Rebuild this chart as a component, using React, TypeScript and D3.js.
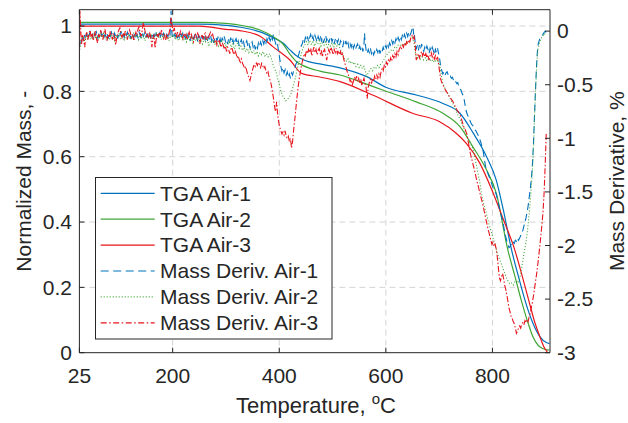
import React from "react";
import * as d3 from "d3";

// ---------- TGA (left axis, normalized mass) ----------
const tgaT1 = [25, 250, 300, 335, 364, 390, 407, 420, 433, 446, 476, 514, 564, 601, 657, 707, 739, 764, 789, 807, 820, 836, 851, 861, 876, 889, 901, 907];
const tgaM1 = [1.006, 1.006, 1.002, 0.994, 0.982, 0.963, 0.948, 0.927, 0.908, 0.896, 0.884, 0.872, 0.845, 0.812, 0.789, 0.763, 0.733, 0.672, 0.6, 0.529, 0.44, 0.314, 0.22, 0.161, 0.09, 0.049, 0.031, 0.028];

const tgaT2 = [25, 250, 300, 335, 364, 390, 407, 420, 433, 446, 476, 514, 564, 594, 657, 707, 739, 763, 789, 807, 829, 842, 854, 866, 876, 886, 894, 907];
const tgaM2 = [1.011, 1.011, 1.008, 1.0, 0.988, 0.966, 0.945, 0.914, 0.89, 0.878, 0.862, 0.85, 0.822, 0.804, 0.768, 0.733, 0.692, 0.631, 0.559, 0.489, 0.314, 0.235, 0.161, 0.095, 0.049, 0.022, 0.013, 0.008];

const tgaT3 = [25, 250, 300, 326, 364, 388, 420, 442, 476, 514, 575, 650, 701, 732, 751, 776, 799, 820, 842, 855, 868, 880, 889, 896, 903];
const tgaM3 = [1.0, 1.0, 0.99, 0.986, 0.969, 0.937, 0.896, 0.855, 0.844, 0.83, 0.789, 0.733, 0.707, 0.672, 0.641, 0.581, 0.498, 0.41, 0.314, 0.24, 0.161, 0.09, 0.049, 0.02, 0.002];

// ---------- Mass derivative (right axis, %): [temperature, derivative] ----------
const derivAir1: [number, number][] = [
  [25, -0.16], [27, -0.07], [29, -0.1], [31, -0.04], [33, -0.08], [35, -0.03], [37, -0.06], [39, -0.02], [41, -0.07], [43, -0.04], [45, -0.01], [47, -0.05], [49, -0.03], [51, -0.07], [53, -0.02], [55, -0.04], [57, -0.01], [59, -0.06], [61, -0.03], [63, -0.05], [65, 0.0], [67, -0.04], [69, -0.02], [71, -0.06], [73, -0.03], [75, -0.05], [77, -0.02], [79, -0.07], [81, -0.03], [83, -0.05], [85, -0.01], [87, -0.04], [89, -0.06], [91, -0.02], [93, -0.05], [95, -0.03], [97, -0.07], [99, -0.02], [101, -0.04], [103, 0.0], [105, -0.05], [107, -0.03], [109, -0.06], [111, -0.02], [113, -0.04], [115, -0.01], [117, -0.05], [119, -0.03], [121, -0.07], [123, -0.02], [125, -0.04], [127, -0.06], [129, -0.02], [131, -0.05], [133, -0.03], [135, -0.06], [137, -0.01], [139, -0.04], [141, -0.07], [143, -0.03], [145, -0.05], [147, -0.02], [149, -0.06], [151, -0.03], [153, -0.05], [155, -0.01], [157, -0.04], [159, -0.06], [161, -0.02], [163, -0.05], [165, -0.03], [167, -0.07], [169, -0.02], [171, -0.04], [173, -0.06], [175, -0.02], [177, -0.05], [179, -0.03], [181, -0.06], [183, -0.02], [185, -0.04], [187, -0.07], [189, -0.03], [191, -0.05], [193, -0.02], [195, -0.04], [197, 0.19], [198, 0.02], [199, -0.04], [201, -0.07], [203, -0.03], [205, -0.05], [207, -0.02], [209, -0.06], [211, -0.04], [213, -0.07], [215, -0.03], [217, -0.05], [219, -0.02], [221, -0.06], [223, -0.04], [225, -0.08], [227, -0.03], [229, -0.06], [231, -0.04], [233, -0.09], [235, -0.05], [237, -0.03], [239, -0.07], [241, -0.04], [243, -0.08], [245, -0.05], [247, -0.1], [249, -0.04], [251, -0.06], [253, -0.09], [255, -0.05], [257, -0.07], [259, -0.03], [261, -0.08], [263, -0.06], [265, -0.1], [267, -0.05], [269, -0.07], [271, -0.04], [273, -0.09], [275, -0.06], [277, -0.11], [279, -0.07], [281, -0.05], [283, -0.09], [285, -0.06], [287, -0.1], [289, -0.07], [291, -0.12], [293, -0.06], [295, -0.09], [297, -0.05], [299, -0.1], [301, -0.08], [303, -0.12], [305, -0.07], [307, -0.1], [309, -0.06], [311, -0.11], [313, -0.08], [315, -0.13], [317, -0.09], [319, -0.07], [321, -0.12], [323, -0.09], [325, -0.14], [327, -0.1], [329, -0.08], [331, -0.13], [333, -0.1], [335, -0.15], [337, -0.11], [339, -0.09], [341, -0.14], [343, -0.11], [345, -0.16], [347, -0.12], [349, -0.1], [351, -0.15], [353, -0.12], [355, -0.17], [357, -0.13], [359, -0.16], [361, -0.11], [363, -0.14], [365, -0.1], [367, -0.13], [369, -0.09], [371, -0.12], [373, -0.08], [375, -0.11], [377, -0.07], [379, -0.1], [381, -0.06], [383, -0.09], [385, -0.05], [387, -0.08], [389, -0.03], [391, -0.08], [393, -0.11], [395, -0.15], [397, -0.13], [399, -0.2], [401, -0.26], [403, -0.33], [405, -0.37], [407, -0.34], [409, -0.39], [411, -0.36], [413, -0.41], [415, -0.38], [417, -0.43], [419, -0.4], [421, -0.44], [423, -0.39], [425, -0.41], [427, -0.37], [429, -0.36], [431, -0.31], [433, -0.29], [435, -0.24], [437, -0.21], [439, -0.17], [441, -0.14], [443, -0.12], [445, -0.08], [447, -0.11], [449, -0.06], [451, -0.09], [453, -0.05], [455, -0.1], [457, -0.06], [459, -0.03], [461, -0.08], [463, -0.05], [465, -0.09], [467, -0.04], [469, -0.07], [471, -0.1], [473, -0.05], [475, -0.08], [477, -0.04], [479, -0.09], [481, -0.06], [483, -0.11], [485, -0.07], [487, -0.04], [489, -0.09], [491, -0.06], [493, -0.11], [495, -0.07], [497, -0.05], [499, -0.1], [501, -0.07], [503, -0.12], [505, -0.08], [507, -0.06], [509, -0.11], [511, -0.08], [513, -0.13], [515, -0.09], [517, -0.11], [519, -0.15], [521, -0.1], [523, -0.13], [525, -0.09], [527, -0.14], [529, -0.11], [531, -0.16], [533, -0.12], [535, -0.15], [537, -0.11], [539, -0.16], [541, -0.13], [543, -0.17], [545, -0.14], [547, -0.12], [549, -0.17], [551, -0.14], [553, -0.18], [555, -0.15], [557, -0.19], [559, -0.12], [560, -0.02], [561, -0.1], [563, -0.18], [565, -0.21], [567, -0.17], [569, -0.2], [571, -0.16], [573, -0.21], [575, -0.18], [577, -0.22], [579, -0.19], [581, -0.21], [583, -0.17], [585, -0.2], [587, -0.16], [589, -0.21], [591, -0.17], [593, -0.19], [595, -0.15], [597, -0.18], [599, -0.14], [601, -0.16], [603, -0.12], [605, -0.15], [607, -0.11], [609, -0.13], [611, -0.09], [613, -0.12], [615, -0.08], [617, -0.11], [619, -0.07], [621, -0.1], [623, -0.06], [625, -0.09], [627, -0.05], [629, -0.08], [631, -0.04], [633, -0.07], [635, -0.03], [637, -0.06], [639, -0.02], [641, -0.05], [643, -0.01], [645, -0.04], [647, -0.02], [649, 0.02], [651, 0.04], [652, -0.03], [653, -0.01], [655, -0.1], [657, -0.17], [659, -0.14], [661, -0.18], [663, -0.13], [665, -0.17], [667, -0.12], [669, -0.16], [671, -0.19], [673, -0.15], [675, -0.18], [677, -0.14], [679, -0.17], [681, -0.21], [683, -0.16], [685, -0.19], [687, -0.15], [689, -0.18], [691, -0.22], [693, -0.17], [695, -0.2], [697, -0.16], [699, -0.21], [701, -0.26], [703, -0.33], [705, -0.37], [707, -0.4], [709, -0.38], [711, -0.41], [713, -0.39], [715, -0.38], [717, -0.41], [719, -0.43], [721, -0.42], [723, -0.44], [725, -0.43], [727, -0.46], [729, -0.45], [731, -0.47], [733, -0.49], [735, -0.48], [737, -0.52], [739, -0.54], [741, -0.55], [743, -0.58], [745, -0.6], [747, -0.64], [749, -0.7], [751, -0.75], [753, -0.78], [755, -0.8], [757, -0.82], [759, -0.85], [761, -0.87], [763, -0.88], [765, -0.9], [767, -0.92], [769, -0.93], [771, -0.95], [773, -0.97], [775, -0.99], [777, -1.02], [779, -1.05], [781, -1.09], [783, -1.13], [785, -1.2], [787, -1.26], [789, -1.3], [791, -1.32], [793, -1.35], [795, -1.37], [797, -1.4], [799, -1.43], [801, -1.46], [803, -1.48], [805, -1.5], [807, -1.52], [809, -1.56], [811, -1.6], [813, -1.65], [815, -1.69], [817, -1.73], [819, -1.77], [821, -1.82], [823, -1.87], [825, -1.92], [827, -1.96], [829, -1.99], [831, -2.02], [833, -2.01], [835, -1.99], [837, -2.0], [839, -1.97], [841, -1.98], [843, -1.95], [845, -1.96], [847, -1.93], [849, -1.95], [851, -1.93], [853, -1.91], [855, -1.88], [857, -1.86], [859, -1.82], [861, -1.78], [863, -1.74], [865, -1.69], [867, -1.63], [869, -1.55], [871, -1.47], [873, -1.38], [875, -1.25], [877, -1.05], [879, -0.78], [881, -0.52], [883, -0.3], [885, -0.14], [887, -0.1], [889, -0.07], [891, -0.06], [893, -0.04], [895, -0.03], [897, -0.01], [899, 0.0], [901, -0.02],
];

const derivAir2: [number, number][] = [
  [25, -0.2], [28, -0.09], [31, -0.06], [34, -0.1], [37, -0.04], [40, -0.07], [43, -0.03], [46, -0.08], [49, -0.05], [52, -0.02], [55, -0.07], [58, -0.04], [61, -0.08], [64, -0.03], [67, -0.06], [70, -0.02], [73, -0.05], [76, -0.08], [79, -0.04], [82, -0.07], [85, -0.03], [88, -0.06], [91, -0.09], [94, -0.04], [97, -0.06], [100, -0.02], [103, -0.07], [106, -0.05], [109, -0.08], [112, -0.03], [115, -0.06], [118, -0.04], [121, -0.08], [124, -0.05], [127, -0.02], [130, -0.06], [133, -0.04], [136, -0.08], [139, -0.03], [142, -0.06], [145, -0.04], [148, -0.09], [151, -0.05], [154, -0.03], [157, -0.07], [160, -0.04], [163, -0.08], [166, -0.05], [169, -0.02], [172, -0.06], [175, -0.04], [178, -0.08], [181, -0.05], [184, -0.03], [187, -0.07], [190, -0.05], [193, -0.09], [196, -0.04], [199, -0.06], [202, -0.03], [205, -0.08], [208, -0.05], [211, -0.09], [214, -0.06], [217, -0.04], [220, -0.09], [223, -0.06], [226, -0.1], [229, -0.05], [232, -0.08], [235, -0.06], [238, -0.11], [241, -0.07], [244, -0.09], [247, -0.06], [250, -0.11], [253, -0.08], [256, -0.12], [259, -0.07], [262, -0.1], [265, -0.08], [268, -0.13], [271, -0.09], [274, -0.11], [277, -0.08], [280, -0.13], [283, -0.1], [286, -0.14], [289, -0.11], [292, -0.09], [295, -0.14], [298, -0.11], [301, -0.15], [304, -0.12], [307, -0.1], [310, -0.15], [313, -0.12], [316, -0.17], [319, -0.13], [322, -0.11], [325, -0.16], [328, -0.14], [331, -0.18], [334, -0.15], [337, -0.19], [340, -0.16], [343, -0.2], [346, -0.17], [349, -0.21], [352, -0.18], [355, -0.22], [358, -0.19], [361, -0.23], [364, -0.2], [367, -0.22], [370, -0.19], [373, -0.23], [376, -0.21], [379, -0.24], [382, -0.21], [385, -0.25], [388, -0.31], [391, -0.35], [394, -0.38], [397, -0.44], [400, -0.5], [403, -0.56], [406, -0.6], [409, -0.62], [412, -0.65], [415, -0.64], [418, -0.62], [421, -0.6], [424, -0.55], [427, -0.5], [430, -0.44], [433, -0.37], [436, -0.3], [439, -0.26], [442, -0.2], [445, -0.15], [448, -0.13], [451, -0.1], [454, -0.13], [457, -0.09], [460, -0.12], [463, -0.1], [466, -0.14], [469, -0.1], [472, -0.12], [475, -0.09], [478, -0.14], [481, -0.11], [484, -0.13], [487, -0.1], [490, -0.15], [493, -0.12], [496, -0.14], [499, -0.11], [502, -0.15], [505, -0.12], [508, -0.14], [511, -0.12], [514, -0.16], [517, -0.19], [520, -0.23], [523, -0.26], [526, -0.28], [529, -0.26], [532, -0.3], [535, -0.28], [538, -0.31], [541, -0.29], [544, -0.33], [547, -0.31], [550, -0.34], [553, -0.32], [556, -0.35], [559, -0.33], [562, -0.38], [564, -0.43], [566, -0.4], [569, -0.37], [572, -0.35], [575, -0.37], [578, -0.34], [581, -0.35], [584, -0.32], [587, -0.34], [590, -0.31], [593, -0.29], [596, -0.27], [599, -0.24], [602, -0.22], [605, -0.2], [608, -0.19], [611, -0.17], [614, -0.18], [617, -0.15], [620, -0.16], [623, -0.13], [626, -0.14], [629, -0.12], [632, -0.14], [635, -0.11], [638, -0.12], [641, -0.09], [644, -0.1], [647, -0.07], [650, -0.06], [653, -0.12], [656, -0.22], [659, -0.25], [662, -0.23], [665, -0.26], [668, -0.24], [671, -0.27], [674, -0.25], [677, -0.28], [680, -0.25], [683, -0.28], [686, -0.26], [689, -0.29], [692, -0.27], [695, -0.29], [698, -0.27], [701, -0.31], [704, -0.41], [707, -0.49], [710, -0.52], [713, -0.56], [716, -0.58], [719, -0.61], [722, -0.64], [725, -0.67], [728, -0.7], [731, -0.73], [734, -0.77], [737, -0.8], [740, -0.83], [743, -0.87], [746, -0.9], [749, -0.94], [752, -0.98], [755, -1.01], [758, -1.04], [761, -1.07], [764, -1.11], [767, -1.18], [770, -1.25], [773, -1.33], [776, -1.4], [779, -1.5], [782, -1.58], [785, -1.64], [788, -1.69], [791, -1.75], [794, -1.81], [797, -1.86], [800, -1.91], [803, -1.96], [806, -2.02], [809, -2.07], [812, -2.11], [815, -2.15], [818, -2.19], [821, -2.23], [824, -2.27], [827, -2.31], [830, -2.34], [833, -2.36], [836, -2.35], [839, -2.37], [842, -2.34], [845, -2.33], [848, -2.35], [851, -2.31], [854, -2.24], [857, -2.14], [860, -2.05], [863, -1.97], [866, -1.85], [869, -1.7], [872, -1.52], [875, -1.3], [877, -1.1], [879, -0.8], [881, -0.55], [883, -0.33], [885, -0.18], [888, -0.11], [891, -0.07], [894, -0.05], [897, -0.02], [900, -0.04],
];

const derivAir3: [number, number][] = [
  [25, -0.26], [26, 0.19], [27, 0.06], [29, -0.12], [31, -0.03], [33, -0.09], [35, -0.15], [37, -0.04], [39, -0.01], [41, -0.08], [43, -0.03], [45, 0.01], [47, -0.06], [49, -0.02], [51, -0.09], [53, -0.04], [55, 0.0], [57, -0.07], [59, -0.11], [61, -0.03], [63, -0.06], [65, 0.01], [67, -0.04], [69, -0.08], [71, -0.02], [73, 0.02], [75, -0.05], [77, -0.09], [79, -0.03], [81, -0.06], [83, 0.0], [85, -0.04], [87, -0.08], [89, -0.02], [91, -0.05], [93, -0.13], [95, -0.06], [97, -0.02], [99, 0.01], [101, 0.03], [103, -0.03], [105, -0.06], [107, -0.02], [109, -0.05], [111, 0.0], [113, -0.04], [115, -0.08], [117, -0.03], [119, 0.01], [121, -0.02], [123, -0.06], [125, -0.03], [127, -0.09], [129, -0.05], [131, -0.01], [133, -0.04], [135, 0.02], [137, 0.04], [139, -0.02], [141, -0.05], [143, 0.01], [145, 0.08], [147, 0.03], [149, -0.02], [151, -0.06], [153, -0.03], [155, -0.07], [157, -0.02], [159, -0.05], [161, -0.15], [163, -0.07], [165, -0.03], [167, -0.16], [169, -0.08], [171, -0.02], [173, -0.05], [175, -0.01], [177, -0.04], [179, 0.01], [181, -0.03], [183, -0.07], [185, -0.04], [187, -0.09], [189, -0.03], [191, -0.06], [193, -0.02], [195, 0.02], [197, 0.13], [199, 0.05], [201, -0.01], [203, 0.03], [205, -0.02], [207, -0.05], [209, -0.01], [211, -0.06], [213, -0.03], [215, 0.0], [217, -0.04], [219, -0.07], [221, -0.02], [223, -0.05], [225, -0.03], [227, -0.08], [229, -0.04], [231, -0.01], [233, -0.06], [235, -0.03], [237, -0.07], [239, -0.1], [241, -0.05], [243, -0.03], [245, -0.06], [247, -0.02], [249, -0.05], [251, -0.12], [253, -0.06], [255, -0.03], [257, -0.07], [259, -0.04], [261, -0.02], [263, -0.08], [265, -0.05], [267, -0.07], [269, -0.03], [271, -0.01], [273, -0.05], [275, -0.03], [277, -0.07], [279, -0.1], [281, -0.08], [283, -0.13], [285, -0.1], [287, -0.08], [289, -0.12], [291, -0.15], [293, -0.11], [295, -0.13], [297, -0.17], [299, -0.14], [301, -0.19], [303, -0.15], [305, -0.17], [307, -0.21], [309, -0.17], [311, -0.15], [313, -0.19], [315, -0.22], [317, -0.18], [319, -0.21], [321, -0.25], [323, -0.23], [325, -0.27], [327, -0.29], [329, -0.26], [331, -0.3], [333, -0.32], [335, -0.35], [337, -0.33], [339, -0.37], [341, -0.41], [343, -0.43], [345, -0.46], [347, -0.42], [349, -0.38], [351, -0.34], [353, -0.31], [355, -0.33], [357, -0.3], [359, -0.32], [361, -0.29], [363, -0.31], [365, -0.34], [367, -0.3], [369, -0.32], [371, -0.35], [373, -0.33], [375, -0.37], [377, -0.4], [379, -0.38], [381, -0.43], [383, -0.46], [385, -0.5], [387, -0.56], [389, -0.62], [391, -0.7], [393, -0.75], [395, -0.66], [397, -0.78], [399, -0.85], [401, -0.9], [403, -0.93], [405, -0.96], [407, -0.94], [409, -0.97], [411, -0.93], [413, -0.98], [415, -1.0], [417, -0.98], [419, -1.03], [421, -1.0], [423, -1.09], [425, -1.03], [427, -0.92], [429, -0.83], [431, -0.73], [433, -0.63], [435, -0.54], [437, -0.46], [439, -0.4], [441, -0.34], [443, -0.29], [445, -0.25], [447, -0.21], [449, -0.23], [451, -0.18], [453, -0.21], [455, -0.17], [457, -0.2], [459, -0.16], [461, -0.23], [463, -0.19], [465, -0.15], [467, -0.2], [469, -0.17], [471, -0.22], [473, -0.18], [475, -0.16], [477, -0.21], [479, -0.18], [481, -0.24], [483, -0.19], [485, -0.17], [487, -0.22], [489, -0.27], [491, -0.21], [493, -0.17], [495, -0.2], [497, -0.15], [499, -0.18], [501, -0.22], [503, -0.17], [505, -0.2], [507, -0.16], [509, -0.21], [511, -0.18], [513, -0.22], [515, -0.19], [517, -0.23], [519, -0.21], [521, -0.26], [523, -0.3], [525, -0.33], [527, -0.37], [529, -0.4], [531, -0.43], [533, -0.47], [535, -0.45], [537, -0.5], [539, -0.47], [541, -0.43], [543, -0.46], [545, -0.42], [547, -0.47], [549, -0.44], [551, -0.49], [553, -0.45], [555, -0.51], [557, -0.47], [559, -0.44], [561, -0.49], [563, -0.53], [565, -0.63], [567, -0.52], [569, -0.48], [571, -0.45], [573, -0.49], [575, -0.44], [577, -0.47], [579, -0.42], [581, -0.45], [583, -0.41], [585, -0.44], [587, -0.4], [589, -0.43], [591, -0.38], [593, -0.35], [595, -0.37], [597, -0.32], [599, -0.34], [601, -0.29], [603, -0.31], [605, -0.27], [607, -0.29], [609, -0.25], [611, -0.28], [613, -0.23], [615, -0.25], [617, -0.21], [619, -0.24], [621, -0.19], [623, -0.22], [625, -0.17], [627, -0.15], [629, -0.17], [631, -0.13], [633, -0.15], [635, -0.11], [637, -0.14], [639, -0.1], [641, -0.12], [643, -0.08], [645, -0.1], [647, -0.06], [649, -0.04], [651, -0.07], [653, -0.05], [655, -0.13], [657, -0.27], [659, -0.24], [661, -0.21], [663, -0.25], [665, -0.22], [667, -0.19], [669, -0.23], [671, -0.2], [673, -0.24], [675, -0.21], [677, -0.25], [679, -0.22], [681, -0.27], [683, -0.23], [685, -0.2], [687, -0.24], [689, -0.21], [691, -0.26], [693, -0.23], [695, -0.27], [697, -0.24], [699, -0.31], [701, -0.38], [703, -0.45], [705, -0.48], [707, -0.5], [710, -0.53], [713, -0.56], [716, -0.58], [719, -0.61], [722, -0.63], [725, -0.65], [728, -0.68], [731, -0.71], [734, -0.74], [737, -0.76], [740, -0.79], [743, -0.84], [746, -0.89], [749, -0.92], [752, -0.96], [755, -1.04], [758, -1.13], [761, -1.19], [764, -1.25], [767, -1.31], [770, -1.38], [773, -1.44], [776, -1.5], [779, -1.56], [782, -1.62], [785, -1.69], [788, -1.76], [791, -1.83], [794, -1.89], [797, -1.95], [799, -1.99], [801, -1.97], [803, -2.01], [805, -1.99], [807, -2.03], [809, -2.1], [811, -2.2], [813, -2.3], [815, -2.33], [817, -2.29], [819, -2.26], [821, -2.31], [823, -2.37], [825, -2.41], [827, -2.46], [829, -2.52], [831, -2.58], [833, -2.62], [835, -2.66], [837, -2.68], [839, -2.71], [841, -2.73], [843, -2.77], [845, -2.82], [847, -2.8], [849, -2.77], [851, -2.75], [853, -2.77], [855, -2.73], [857, -2.72], [859, -2.74], [861, -2.7], [863, -2.72], [865, -2.69], [867, -2.71], [869, -2.66], [871, -2.63], [873, -2.58], [875, -2.53], [877, -2.47], [879, -2.4], [881, -2.33], [883, -2.26], [885, -2.18], [887, -2.09], [889, -2.0], [891, -1.9], [893, -1.8], [895, -1.68], [897, -1.5], [899, -1.25], [901, -0.95],
];

// ---------- Axes ----------
const xTicks = [25, 200, 400, 600, 800];
const yLeftTicks = [0, 0.2, 0.4, 0.6, 0.8, 1];
const yLeftLabels = ["0", "0.2", "0.4", "0.6", "0.8", "1"];
const yRightTicks = [-3, -2.5, -2, -1.5, -1, -0.5, 0];
const yRightLabels = ["-3", "-2.5", "-2", "-1.5", "-1", "-0.5", "0"];

const legendLabels = ["TGA Air-1", "TGA Air-2", "TGA Air-3", "Mass Deriv. Air-1", "Mass Deriv. Air-2", "Mass Deriv. Air-3"];

const BLUE = "#0072BD";
const GREEN = "#3FA535";
const RED = "#E8151D";
const INK = "#262626";
const FONT = "'Liberation Sans', Arial, Helvetica, sans-serif";

export default function App() {
  const L = 79.4, R = 550, T = 9.7, B = 352.7;
  const x = d3.scaleLinear().domain([25, 908]).range([L, R]);
  const yL = d3.scaleLinear().domain([0, 1.05]).range([B, T]);
  const yR = d3.scaleLinear().domain([-3, 0.2]).range([B, T]);

  const lineL = d3.line<[number, number]>().x(d => x(d[0])).y(d => yL(d[1])).curve(d3.curveMonotoneX);
  const lineR = d3.line<[number, number]>().x(d => x(d[0])).y(d => yR(d[1]));
  const zip = (a: number[], b: number[]) => a.map((v, i) => [v, b[i]] as [number, number]);

  const tga = [
    { d: lineL(zip(tgaT1, tgaM1)), c: BLUE },
    { d: lineL(zip(tgaT2, tgaM2)), c: GREEN },
    { d: lineL(zip(tgaT3, tgaM3)), c: RED },
  ];
  const der = [
    { d: lineR(derivAir1), c: BLUE, dash: "7,4" },
    { d: lineR(derivAir2), c: GREEN, dash: "1,2" },
    { d: lineR(derivAir3), c: RED, dash: "6,2,1.5,2" },
  ];
  const legendStyles = [
    { c: BLUE, dash: undefined },
    { c: GREEN, dash: undefined },
    { c: RED, dash: undefined },
    { c: BLUE, dash: "8,4.5" },
    { c: GREEN, dash: "1,2" },
    { c: RED, dash: "6,2.5,1.5,2.5" },
  ];

  const fs = 21;
  return (
    <svg width={628} height={423} style={{ position: "absolute", left: 0, top: 0, background: "#fff" }} fontFamily={FONT}>
      <rect x={0} y={0} width={628} height={423} fill="#fff" />
      <defs>
        <clipPath id="plotclip">
          <rect x={L} y={T} width={R - L} height={B - T} />
        </clipPath>
      </defs>
      {/* grid */}
      <g stroke="#d4d4d4" strokeWidth={1} strokeDasharray="6,4">
        {xTicks.slice(1).map(t => (
          <line key={"gx" + t} x1={x(t)} x2={x(t)} y1={T} y2={B} />
        ))}
        {yLeftTicks.slice(1).map(t => (
          <line key={"gy" + t} x1={L} x2={R} y1={yL(t)} y2={yL(t)} />
        ))}
      </g>
      {/* data */}
      <g clipPath="url(#plotclip)" fill="none">
        {tga.map((s, i) => (
          <path key={"t" + i} d={s.d || ""} stroke={s.c} strokeWidth={1.2} />
        ))}
        {der.map((s, i) => (
          <path key={"d" + i} d={s.d || ""} stroke={s.c} strokeWidth={1.1} strokeDasharray={s.dash} />
        ))}
      </g>
      {/* axes box */}
      <g stroke={INK} strokeWidth={1} fill="none">
        <line x1={L} x2={R} y1={B} y2={B} />
        <line x1={L} x2={R} y1={T} y2={T} />
        <line x1={L} x2={L} y1={T} y2={B} />
        <line x1={R} x2={R} y1={T} y2={B} />
        {xTicks.map(t => (
          <g key={"xt" + t}>
            <line x1={x(t)} x2={x(t)} y1={B} y2={B - 5} />
            <line x1={x(t)} x2={x(t)} y1={T} y2={T + 5} />
          </g>
        ))}
        {yLeftTicks.map(t => (
          <line key={"ylt" + t} x1={L} x2={L + 5} y1={yL(t)} y2={yL(t)} />
        ))}
        {yRightTicks.map(t => (
          <line key={"yrt" + t} x1={R} x2={R - 5} y1={yR(t)} y2={yR(t)} />
        ))}
      </g>
      {/* tick labels */}
      <g fill={INK} fontSize={fs}>
        {xTicks.map(t => (
          <text key={"xl" + t} x={x(t)} y={383} textAnchor="middle">{t}</text>
        ))}
        {yLeftTicks.map((t, i) => (
          <text key={"yll" + t} x={72} y={yL(t)} dy="0.35em" textAnchor="end">{yLeftLabels[i]}</text>
        ))}
        {yRightTicks.map((t, i) => (
          <text key={"yrl" + t} x={557} y={yR(t)} dy="0.35em" textAnchor="start">{yRightLabels[i]}</text>
        ))}
      </g>
      {/* axis titles */}
      <g fill={INK} fontSize={fs}>
        <text x={316} y={413} textAnchor="middle" fontSize={22}>
          Temperature, <tspan fontSize={15} dy={-9}>o</tspan><tspan dy={9}>C</tspan>
        </text>
        <text transform={`translate(31, ${(T + B) / 2}) rotate(-90)`} textAnchor="middle">Normalized Mass, -</text>
        <text transform={`translate(624, ${(T + B) / 2}) rotate(-90)`} textAnchor="middle">Mass Derivative, %</text>
      </g>
      {/* legend */}
      <g>
        <rect x={95.5} y={177.5} width={236.5} height={161.5} fill="#fff" stroke={INK} strokeWidth={1} />
        {legendLabels.map((lab, i) => {
          const yy = 193.3 + i * 25.9;
          const st = legendStyles[i];
          return (
            <g key={"lg" + i}>
              <line x1={100.7} x2={154.7} y1={yy} y2={yy} stroke={st.c} strokeWidth={1.2} strokeDasharray={st.dash} />
              <text x={160} y={yy} dy="0.35em" fontSize={fs} fill={INK}>{lab}</text>
            </g>
          );
        })}
      </g>
    </svg>
  );
}
